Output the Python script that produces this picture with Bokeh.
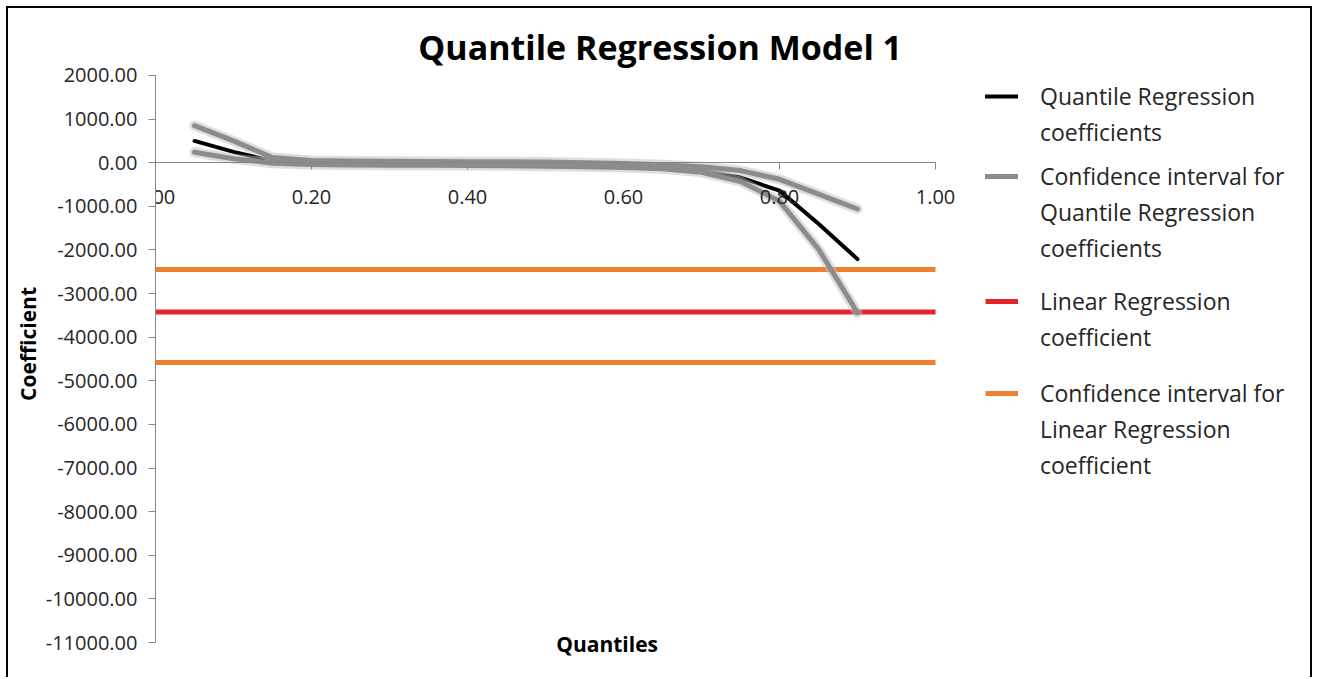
from bokeh.plotting import figure
from bokeh.models import Range1d, FixedTicker, NumeralTickFormatter, Label, Legend, LegendItem
from bokeh.embed import file_html
from bokeh.resources import INLINE

# ---- data ----
quantiles = [0.05, 0.10, 0.15, 0.20, 0.25, 0.30, 0.35, 0.40, 0.45,
             0.50, 0.55, 0.60, 0.65, 0.70, 0.75, 0.80, 0.85, 0.90]
qr_coef = [500, 250, 40, 5, -5, -10, -15, -20, -25,
           -35, -50, -75, -110, -180, -340, -640, -1400, -2210]
qr_ci_upper = [850, 500, 120, 50, 40, 35, 30, 25, 20,
               15, 0, -20, -45, -90, -180, -380, -720, -1060]
qr_ci_lower = [240, 90, -10, -40, -50, -55, -60, -65, -70,
               -80, -95, -110, -140, -220, -430, -880, -1980, -3440]

lr_x = [0.0, 1.0]
lr_coef = [-3420, -3420]
lr_ci_upper = [-2450, -2450]
lr_ci_lower = [-4580, -4580]

x_ticks = [0.0, 0.2, 0.4, 0.6, 0.8, 1.0]
y_ticks = list(range(-11000, 2001, 1000))

title_text = "Quantile Regression Model 1"
x_label = "Quantiles"
y_label = "Coefficient"
legend_labels = ["Quantile Regression\ncoefficients",
                 "Confidence interval for\nQuantile Regression\ncoefficients",
                 "Linear Regression\ncoefficient",
                 "Confidence interval for\nLinear Regression\ncoefficient"]

# ---- styling ----
FONT = "Open Sans"
AXIS_GRAY = "#868686"
TEXT_COL = "#262626"
BLACK = "#000000"
GRAY = "#8c8c8c"
RED = "#e3242b"
ORANGE = "#f07f30"

W, H = 1306, 671
# frame spans the whole canvas right of the y axis; axis lines are bounded
p = figure(width=W, height=H, output_backend="svg", toolbar_location=None,
           x_range=Range1d(0, 1.4859), y_range=Range1d(-11848, 3536),
           min_border_left=147, min_border_right=0, min_border_top=0,
           min_border_bottom=0)
p.styles = {"margin-left": "6px", "margin-top": "6px",
            "border-left": "2px solid black", "border-top": "2px solid black",
            "border-right": "2px solid black"}
p.outline_line_color = None
p.xgrid.visible = False
p.ygrid.visible = False
p.background_fill_color = "white"
p.border_fill_color = "white"

# x axis crossing at y = 0
xa = p.xaxis[0]
xa.fixed_location = 0
xa.bounds = (0, 1)
xa.ticker = FixedTicker(ticks=x_ticks)
xa.formatter = NumeralTickFormatter(format="0.00")
xa.axis_line_color = AXIS_GRAY
xa.major_tick_line_color = AXIS_GRAY
xa.major_tick_out = 7
xa.major_tick_in = 0
xa.minor_tick_line_color = None
xa.major_label_standoff = 20
xa.major_label_text_font = FONT
xa.major_label_text_font_size = "20px"
xa.major_label_text_color = TEXT_COL

ya = p.yaxis[0]
ya.bounds = (-11000, 2000)
ya.ticker = FixedTicker(ticks=y_ticks)
ya.formatter = NumeralTickFormatter(format="0.00")
ya.axis_line_color = AXIS_GRAY
ya.major_tick_line_color = AXIS_GRAY
ya.major_tick_out = 7
ya.major_tick_in = 0
ya.minor_tick_line_color = None
ya.major_label_standoff = 11
ya.major_label_text_font = FONT
ya.major_label_text_font_size = "20px"
ya.major_label_text_color = TEXT_COL
ya.axis_label = y_label
ya.axis_label_text_font = FONT
ya.axis_label_text_font_style = "bold"
ya.axis_label_text_font_size = "21px"
ya.axis_label_text_color = BLACK
ya.axis_label_standoff = 1

# horizontal linear regression lines
r_lr_up = p.line(lr_x, lr_ci_upper, line_color=ORANGE, line_width=5)
p.line(lr_x, lr_ci_lower, line_color=ORANGE, line_width=5)
r_lr = p.line(lr_x, lr_coef, line_color=RED, line_width=5)

# quantile regression
r_qr = p.line(quantiles, qr_coef, line_color=BLACK, line_width=4,
              line_join="round", line_cap="round")
for ys in (qr_ci_upper, qr_ci_lower):
    p.line(quantiles, ys, line_color="#bdbdbd", line_alpha=0.5, line_width=10,
           line_join="round", line_cap="round")
r_up = p.line(quantiles, qr_ci_upper, line_color=GRAY, line_width=5,
              line_join="round", line_cap="round")
p.line(quantiles, qr_ci_lower, line_color=GRAY, line_width=5,
       line_join="round", line_cap="round")

# invisible renderer used for continuation lines of the legend labels
r_blank = p.line([], [], line_alpha=0)

ROW = 36
legend_renderers = [r_qr, r_up, r_lr, r_lr_up]
legend_first_line_y = [96, 176, 301, 393]   # screen rows (page px) of first label lines
for lab, rend, yc in zip(legend_labels, legend_renderers, legend_first_line_y):
    rows = lab.split("\n")
    items = [LegendItem(label=rows[0], renderers=[rend])]
    items += [LegendItem(label=t, renderers=[r_blank]) for t in rows[1:]]
    bottom = yc - ROW / 2 + ROW * len(rows)
    leg = Legend(items=items, location=(830, 679 - bottom), padding=0, margin=0,
                 spacing=0, glyph_width=33, glyph_height=ROW, label_height=ROW,
                 label_standoff=22, label_text_font=FONT,
                 label_text_font_size="23px", label_text_color=TEXT_COL,
                 border_line_color=None, background_fill_alpha=0)
    p.add_layout(leg)

p.add_layout(Label(x=0.647, y=2642, text=title_text, text_align="center",
                   text_baseline="middle", text_font=FONT, text_font_style="bold",
                   text_font_size="34px", text_color=BLACK))
p.add_layout(Label(x=0.579, y=-11023, text=x_label, text_align="center",
                   text_baseline="middle", text_font=FONT, text_font_style="bold",
                   text_font_size="21px", text_color=BLACK))

open("out.html", "w").write(file_html(p, INLINE))
